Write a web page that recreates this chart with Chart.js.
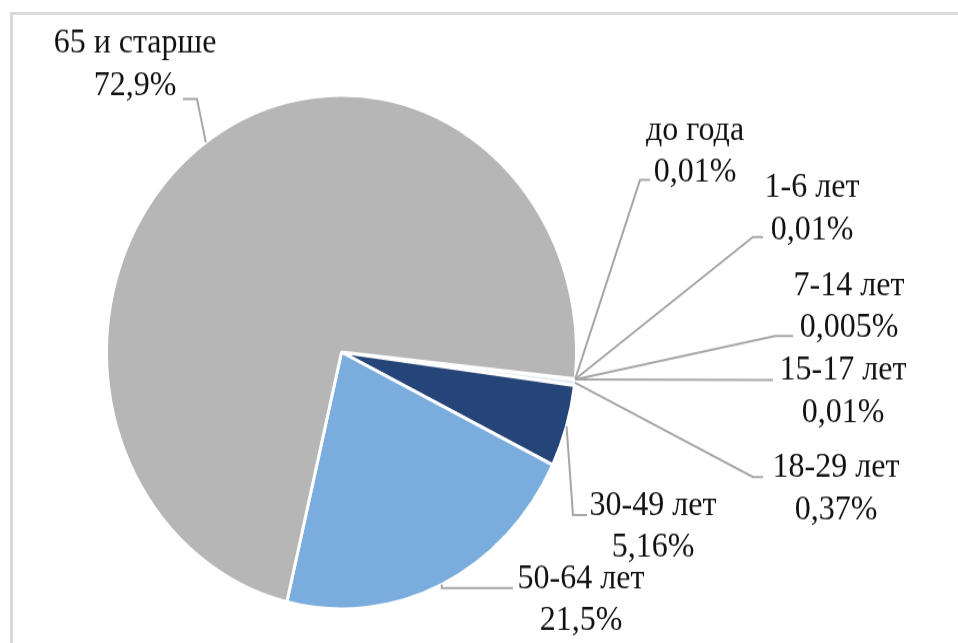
<!DOCTYPE html>
<html>
<head>
<meta charset="utf-8">
<script src="https://cdn.jsdelivr.net/npm/chart.js@4.4.1/dist/chart.umd.min.js"></script>
<style>
	html, body { margin: 0; padding: 0; background: #fff; overflow: hidden; }
	#frame {
		position: absolute; left: 10px; top: 12px; width: 1000px; height: 700px;
		border-left: 3px solid #d9d9d9; border-top: 3px solid #d9d9d9;
	}
	#wrap {
		position: absolute; left: 0; top: 0; width: 958px; height: 588px;
		transform: scaleY(1.0935); transform-origin: 0 0;
	}
</style>
</head>
<body>
<div id="frame"></div>
<div id="wrap"><canvas id="agePie" width="958" height="588"></canvas></div>
<script>
const ageGroups = ["до года", "1-6 лет", "7-14 лет", "15-17 лет", "18-29 лет", "30-49 лет", "50-64 лет", "65 и старше"];
const shares = [0.01, 0.01, 0.005, 0.01, 0.37, 5.16, 21.5, 72.9];
const sliceColors = ["#dde6f2", "#dde6f2", "#dde6f2", "#dde6f2", "#e4ebf4", "#254478", "#7aadde", "#b6b6b6"];

const stretch = 643 / 588;

// label boxes: centre x, first baseline, leader line level, elbow x, line end x
const labelLayout = [
	{ tx: 695, ty: 140, ly: 180, ex: 640, lx: 650 },
	{ tx: 812, ty: 197, ly: 237, ex: 753, lx: 763 },
	{ tx: 849, ty: 295, ly: 336, ex: 775, lx: 793 },
	{ tx: 843, ty: 380, ly: 380, ex: 765, lx: 773 },
	{ tx: 836, ty: 477, ly: 477, ex: 753, lx: 763 },
	{ tx: 653, ty: 515, ly: 515, ex: 573, lx: 587 },
	{ tx: 581, ty: 588, ly: 588, ex: null, lx: 513 },
	{ tx: 135, ty: 53, ly: 99, ex: 197, lx: 183 },
];

const pctText = (v) => String(v).replace(".", ",") + "%";

const leaderLabels = {
	id: "leaderLabels",
	afterDatasetsDraw(chart) {
		const ctx = chart.ctx;
		const arcs = chart.getDatasetMeta(0).data;
		ctx.save();
		ctx.strokeStyle = "#a6a6a6";
		ctx.lineWidth = 2;
		ctx.font = "32px 'Liberation Serif', 'Times New Roman', serif";
		ctx.fillStyle = "#111";
		ctx.textAlign = "center";
		ctx.textBaseline = "alphabetic";
		arcs.forEach((arc, i) => {
			const p = arc.getProps(["x", "y", "startAngle", "endAngle", "outerRadius"], true);
			const mid = (p.startAngle + p.endAngle) / 2;
			const ax = p.x + Math.cos(mid) * p.outerRadius;
			const ay = p.y + Math.sin(mid) * p.outerRadius;
			const lay = labelLayout[i];
			const ly = lay.ly / stretch;
			const ex = lay.ex === null ? ax : lay.ex;
			ctx.beginPath();
			ctx.moveTo(ax, ay);
			ctx.lineTo(ex, ly);
			ctx.lineTo(lay.lx, ly);
			ctx.stroke();
			ctx.fillText(ageGroups[i], lay.tx, lay.ty / stretch);
			ctx.fillText(pctText(shares[i]), lay.tx, lay.ty / stretch + 38.4);
		});
		ctx.restore();
	},
};

new Chart(document.getElementById("agePie"), {
	type: "pie",
	data: {
		labels: ageGroups,
		datasets: [
			{
				data: shares,
				backgroundColor: sliceColors,
				borderColor: "#ffffff",
				borderWidth: 3,
			},
		],
	},
	options: {
		responsive: false,
		animation: false,
		devicePixelRatio: 1,
		rotation: 96,
		layout: {
			padding: { left: 105, right: 380, top: 85, bottom: 29 },
		},
		plugins: {
			legend: { display: false },
			tooltip: { enabled: false },
		},
	},
	plugins: [leaderLabels],
});
</script>
</body>
</html>
